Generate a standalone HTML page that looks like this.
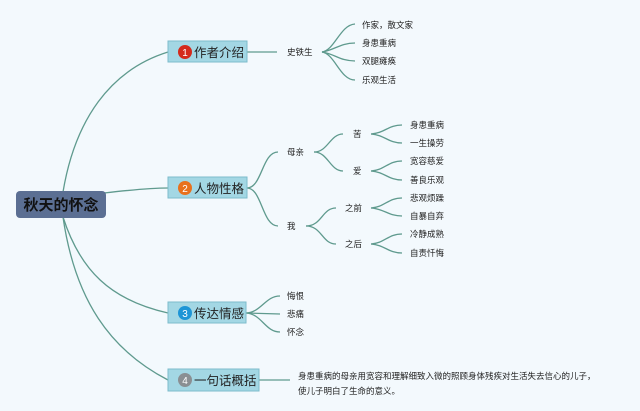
<!DOCTYPE html>
<html><head><meta charset="utf-8"><style>
html,body{margin:0;padding:0;background:#f3f9fd;}
svg{display:block}
text{font-family:"Liberation Sans","Noto Sans CJK SC",sans-serif;}
</style></head><body>
<svg width="640" height="411" viewBox="0 0 640 411" xmlns="http://www.w3.org/2000/svg">
<rect width="640" height="411" fill="#f3f9fd"/>
<g fill="none" stroke="#5f9a8e" stroke-width="1.3">
<!-- main -->
<path d="M63 192 C75 120 110 70 168 52"/>
<path d="M104 193 C130 190 150 188 168 188"/>
<path d="M63 217 C80 270 110 300 168 313"/>
<path d="M63 217 C75 300 110 350 168 380"/>
<!-- branch1 -->
<path d="M247 52 L277 52"/>
<path d="M322 52 C335 50 340 25 355 24"/>
<path d="M322 52 C335 50 340 43 355 43"/>
<path d="M322 52 C335 54 340 61 355 61"/>
<path d="M322 52 C335 54 340 80 355 80"/>
<!-- branch2 -->
<path d="M247 188 C262 188 262 152 278 152"/>
<path d="M247 188 C262 188 262 226 278 226"/>
<path d="M314 152 C328 152 330 134 343 134"/>
<path d="M314 152 C328 152 330 171 343 171"/>
<path d="M306 226 C322 226 322 208 336 208"/>
<path d="M306 226 C322 226 322 244 336 244"/>
<path d="M371 134 C385 133 388 125 402 125"/>
<path d="M371 134 C385 135 388 143 402 143"/>
<path d="M371 171 C385 170 388 161 402 161"/>
<path d="M371 171 C385 172 388 180 402 180"/>
<path d="M371 208 C385 207 388 198 402 198"/>
<path d="M371 208 C385 209 388 216 402 216"/>
<path d="M371 244 C385 243 388 234 402 234"/>
<path d="M371 244 C385 245 388 253 402 253"/>
<!-- branch3 -->
<path d="M246 313 C262 312 265 296 280 296"/>
<path d="M246 313 L280 314"/>
<path d="M246 313 C262 314 265 332 280 332"/>
<!-- branch4 -->
<path d="M259 380 L290 380"/>
</g>
<!-- central -->
<rect x="16" y="191" width="90" height="27" rx="4" fill="#5b6f93"/>
<text x="61" y="210" font-size="15" font-weight="bold" fill="#111" text-anchor="middle">秋天的怀念</text>
<!-- branch nodes -->
<g stroke="#7cbccc" fill="#a3d7e4">
<rect x="168" y="41" width="79" height="21"/>
<rect x="168" y="177" width="79" height="21"/>
<rect x="168" y="302" width="78" height="21"/>
<rect x="168" y="369" width="91" height="22"/>
</g>
<circle cx="185" cy="52" r="7" fill="#d42a1c"/>
<circle cx="185" cy="188" r="7" fill="#e8711d"/>
<circle cx="185" cy="313" r="7" fill="#1d95d6"/>
<circle cx="185" cy="380" r="7" fill="#8a8f93"/>
<g font-size="10" fill="#fff" text-anchor="middle">
<text x="185" y="56">1</text><text x="185" y="192">2</text><text x="185" y="317">3</text><text x="185" y="384">4</text>
</g>
<g font-size="12.5" fill="#222">
<text x="194" y="57">作者介绍</text>
<text x="194" y="193">人物性格</text>
<text x="194" y="318">传达情感</text>
<text x="194" y="385">一句话概括</text>
</g>
<g font-size="8.5" fill="#222">
<text x="287" y="55">史铁生</text>
<text x="362" y="28">作家，散文家</text>
<text x="362" y="46">身患重病</text>
<text x="362" y="64">双腿瘫痪</text>
<text x="362" y="83">乐观生活</text>
<text x="287" y="155">母亲</text>
<text x="287" y="229">我</text>
<text x="353" y="137">苦</text>
<text x="353" y="174">爱</text>
<text x="345" y="211">之前</text>
<text x="345" y="247">之后</text>
<text x="410" y="128">身患重病</text>
<text x="410" y="146">一生操劳</text>
<text x="410" y="164">宽容慈爱</text>
<text x="410" y="183">善良乐观</text>
<text x="410" y="201">悲观烦躁</text>
<text x="410" y="219">自暴自弃</text>
<text x="410" y="237">冷静成熟</text>
<text x="410" y="256">自责忏悔</text>
<text x="287" y="299">悔恨</text>
<text x="287" y="317">悲痛</text>
<text x="287" y="335">怀念</text>
<text x="298" y="379">身患重病的母亲用宽容和理解细致入微的照顾身体残疾对生活失去信心的儿子，</text>
<text x="298" y="394">使儿子明白了生命的意义。</text>
</g>
</svg>
</body></html>
